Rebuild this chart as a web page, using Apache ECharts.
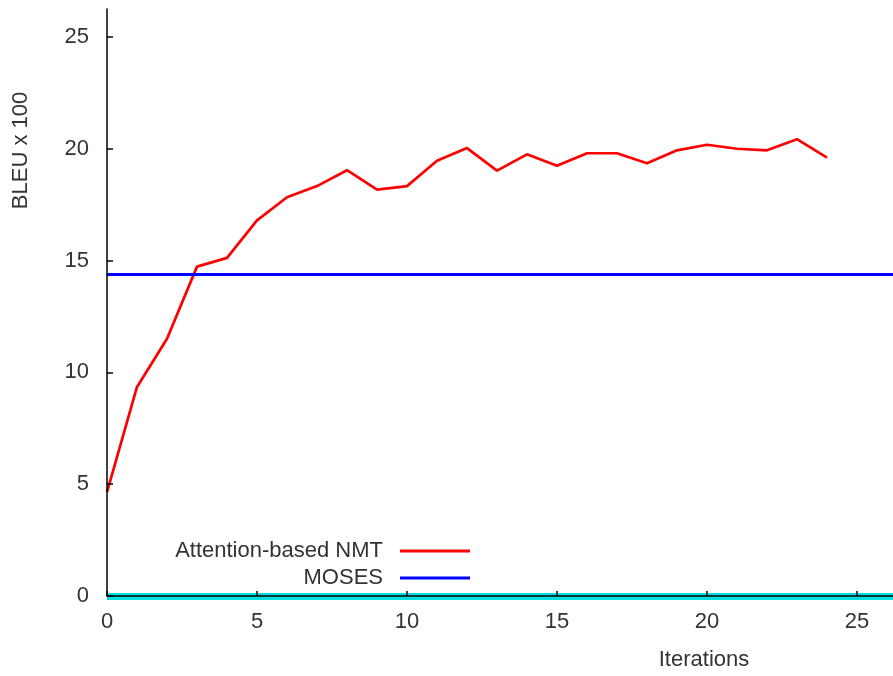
<!DOCTYPE html>
<html>
<head>
<meta charset="utf-8">
<script src="https://cdn.jsdelivr.net/npm/echarts@6/dist/echarts.min.js"></script>
<style>
html,body{margin:0;padding:0;background:#fff;}
#chart{width:893px;height:676px;}
</style>
</head>
<body>
<div id="chart"></div>
<script>
var iterations = [0,1,2,3,4,5,6,7,8,9,10,11,12,13,14,15,16,17,18,19,20,21,22,23,24];
var nmtBleu = [4.64,9.35,11.5,14.73,15.12,16.8,17.83,18.33,19.04,18.17,18.33,19.46,20.03,19.02,19.75,19.24,19.8,19.8,19.35,19.93,20.18,20.0,19.93,20.43,19.6];
var mosesBleu = 14.37;
var baselineBleu = 0;
var xTicks = [0,5,10,15,20,25];
var yTicks = [0,5,10,15,20,25];
var seriesNames = ['Attention-based NMT','MOSES'];

var FONT = 'Liberation Sans, Arial, sans-serif';
var chart = echarts.init(document.getElementById('chart'), null, {renderer:'canvas'});

var nmtData = iterations.map(function(x,i){return [x, nmtBleu[i]];});

var legendBase = {
  orient:'horizontal', align:'right', right:423, padding:0,
  icon:'rect', itemWidth:70, itemHeight:3, selectedMode:false,
  textStyle:{fontFamily:FONT, fontSize:22, color:'#333', padding:[0,12,0,0]}
};

chart.setOption({
  animation:false,
  backgroundColor:'#fff',
  grid:{left:107, right:0, top:9, bottom:79, containLabel:false},
  legend:[
    Object.assign({}, legendBase, {top:540, data:[seriesNames[0]]}),
    Object.assign({}, legendBase, {top:567, data:[seriesNames[1]]})
  ],
  xAxis:{
    type:'value', min:0, max:26.2, interval:5, z:10,
    name:'Iterations', nameLocation:'middle', nameGap:53,
    nameTextStyle:{fontFamily:FONT, fontSize:22, color:'#333', padding:[0,0,0,408]},
    axisLine:{show:true, onZero:false, lineStyle:{color:'#000', width:1.5}},
    axisTick:{show:true, inside:true, length:5, lineStyle:{color:'#000', width:1.5}},
    axisLabel:{fontFamily:FONT, fontSize:22, color:'#333', margin:15, showMaxLabel:false,
      formatter:function(v){return xTicks.indexOf(v)>=0 ? String(v) : '';}},
    splitLine:{show:false}
  },
  yAxis:{
    type:'value', min:0, max:26.25, interval:5, z:10,
    name:'BLEU x 100', nameLocation:'middle', nameGap:75,
    nameTextStyle:{fontFamily:FONT, fontSize:22, color:'#333', padding:[0,0,0,304]},
    axisLine:{show:true, onZero:false, lineStyle:{color:'#000', width:1.5}},
    axisTick:{show:true, inside:true, length:6, lineStyle:{color:'#000', width:1.5}},
    axisLabel:{fontFamily:FONT, fontSize:22, color:'#333', margin:18, showMaxLabel:false,
      formatter:function(v){return yTicks.indexOf(v)>=0 ? String(v) : '';}},
    splitLine:{show:false}
  },
  series:[
    {
      name:seriesNames[0], type:'line', data:nmtData, showSymbol:false, symbol:'none',
      color:'#ff0000', lineStyle:{color:'#ff0000', width:2.7}, z:3
    },
    {
      name:seriesNames[1], type:'line', data:[], symbol:'none',
      color:'#0000ff', lineStyle:{color:'#0000ff', width:3},
      markLine:{
        silent:true, symbol:['none','none'], label:{show:false},
        data:[
          {yAxis:mosesBleu, lineStyle:{color:'#0000ff', width:3, type:'solid'}},
          {yAxis:baselineBleu, lineStyle:{color:'#00e0e0', width:7, type:'solid'}}
        ]
      }, z:2
    }
  ]
});
</script>
</body>
</html>
